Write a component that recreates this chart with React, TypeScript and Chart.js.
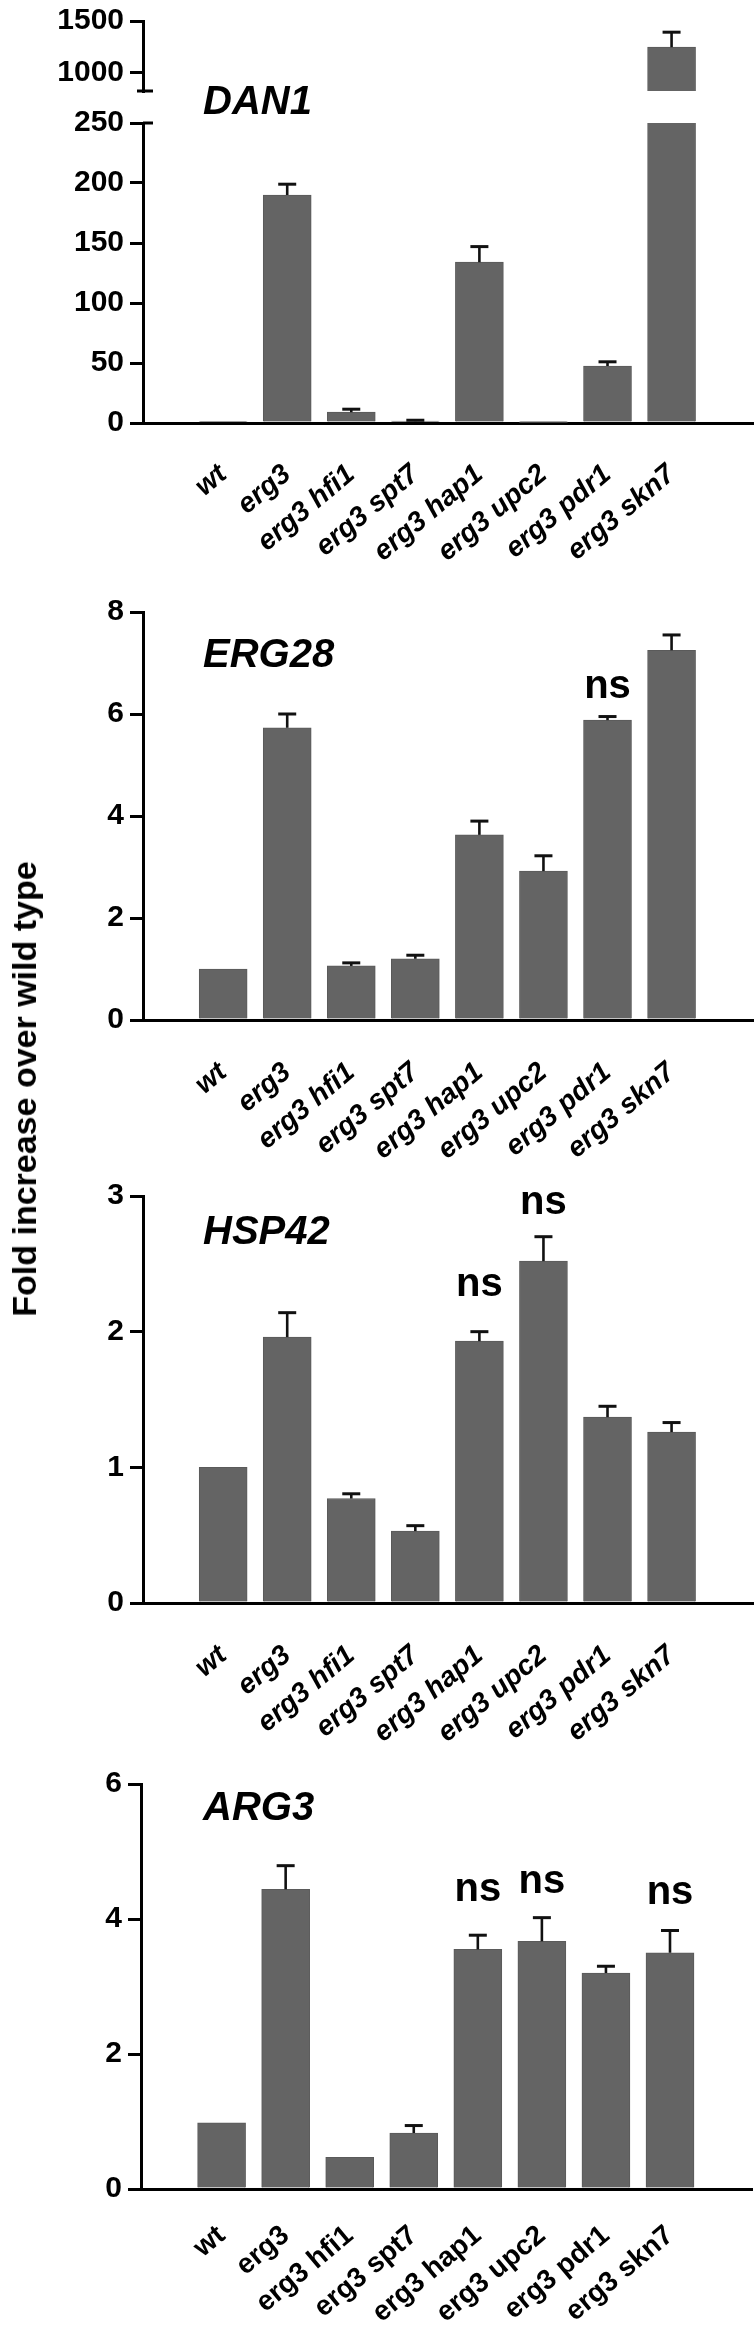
import React, { useEffect, useRef } from 'react';
import { Chart, registerables } from 'chart.js';

Chart.register(...registerables);

// ---------------- data ----------------
const categories = ['wt', 'erg3', 'erg3 hfi1', 'erg3 spt7', 'erg3 hap1', 'erg3 upc2', 'erg3 pdr1', 'erg3 skn7'];

const dan1Values = [1, 190, 9, 1.5, 134, 0.5, 47.5, 1245];
const dan1Errors = [0, 9, 2.5, 0.8, 13, 0, 3.5, 146];
const dan1LowerTicks = [0, 50, 100, 150, 200, 250];
const dan1UpperTicks = [1000, 1500];

const erg28Values = [1.0, 5.73, 1.06, 1.2, 3.63, 2.92, 5.88, 7.25];
const erg28Errors = [0, 0.27, 0.06, 0.07, 0.27, 0.3, 0.07, 0.3];
const erg28Ticks = [0, 2, 4, 6, 8];

const hsp42Values = [1.0, 1.96, 0.77, 0.53, 1.93, 2.52, 1.37, 1.26];
const hsp42Errors = [0, 0.18, 0.035, 0.04, 0.07, 0.18, 0.08, 0.07];
const hsp42Ticks = [0, 1, 2, 3];

const arg3Values = [0.98, 4.44, 0.47, 0.83, 3.55, 3.67, 3.2, 3.5];
const arg3Errors = [0, 0.35, 0, 0.11, 0.21, 0.35, 0.1, 0.33];
const arg3Ticks = [0, 2, 4, 6];

const yAxisTitle = 'Fold increase over wild type';
const nsText = 'ns';

// ---------------- layout / style ----------------
const FONT = "'Liberation Sans', Arial, Helvetica, sans-serif";
const W = 756;
const RIGHT = 753;
const BAR_COLOR = '#646464';

type NsMark = { i: number; dy: number };
type Panel = {
  key: string;
  top: number;
  height: number;
  chartTop: number;
  chartBottom: number;
  left: number;
  right: number;
  xMin: number;
  xMax: number;
  yMin: number;
  yMax: number;
  yTicks: number[];
  values: number[];
  errors: number[];
  ns: NsMark[];
  italic: boolean;
  showX: boolean;
  labelPad: number;
  brk: 'upper' | 'lower' | null;
};

const panels: Panel[] = [
  {
    key: 'dan1u', top: 0, height: 115, chartTop: 16, chartBottom: 91, left: 143, right: RIGHT,
    xMin: -0.656, xMax: 7.676, yMin: 818, yMax: 1500, yTicks: dan1UpperTicks,
    values: dan1Values, errors: dan1Errors, ns: [], italic: true, showX: false, labelPad: 0, brk: 'upper',
  },
  {
    key: 'dan1l', top: 95, height: 495, chartTop: 123, chartBottom: 423, left: 143, right: RIGHT,
    xMin: -0.656, xMax: 7.676, yMin: 0, yMax: 250, yTicks: dan1LowerTicks,
    values: dan1Values, errors: dan1Errors, ns: [], italic: true, showX: true, labelPad: 36, brk: 'lower',
  },
  {
    key: 'erg28', top: 590, height: 580, chartTop: 612, chartBottom: 1020, left: 143, right: RIGHT,
    xMin: -0.656, xMax: 7.676, yMin: 0, yMax: 8, yTicks: erg28Ticks,
    values: erg28Values, errors: erg28Errors, ns: [{ i: 6, dy: 30 }], italic: true, showX: true, labelPad: 37, brk: null,
  },
  {
    key: 'hsp42', top: 1170, height: 580, chartTop: 1196, chartBottom: 1603, left: 143, right: RIGHT,
    xMin: -0.656, xMax: 7.676, yMin: 0, yMax: 3, yTicks: hsp42Ticks,
    values: hsp42Values, errors: hsp42Errors, ns: [{ i: 4, dy: 47 }, { i: 5, dy: 34 }], italic: true, showX: true, labelPad: 37, brk: null,
  },
  {
    key: 'arg3', top: 1750, height: 579, chartTop: 1784, chartBottom: 2189, left: 141, right: 752,
    xMin: -0.662, xMax: 7.684, yMin: 0, yMax: 6, yTicks: arg3Ticks,
    values: arg3Values, errors: arg3Errors, ns: [{ i: 4, dy: 45 }, { i: 5, dy: 36 }, { i: 7, dy: 38 }], italic: false, showX: true, labelPad: 31, brk: null,
  },
];

const titles = [
  { text: 'DAN1', y: 100 },
  { text: 'ERG28', y: 653 },
  { text: 'HSP42', y: 1230 },
  { text: 'ARG3', y: 1806 },
];

// ---------------- plugins ----------------
function errorPlugin(p: Panel) {
  return {
    id: 'errbars_' + p.key,
    afterDatasetsDraw(chart: any) {
      const { ctx, chartArea } = chart;
      const xs = chart.scales.x;
      const ys = chart.scales.y;
      ctx.save();
      ctx.beginPath();
      ctx.rect(chartArea.left, chartArea.top - 2, chartArea.right - chartArea.left, chartArea.bottom - chartArea.top + 2);
      ctx.clip();
      ctx.strokeStyle = '#111';
      ctx.lineCap = 'butt';
      p.values.forEach((v, i) => {
        const e = p.errors[i];
        if (!e) return;
        const x = xs.getPixelForValue(i);
        const y0 = ys.getPixelForValue(v);
        const y1 = ys.getPixelForValue(v + e);
        ctx.lineWidth = 2.6;
        ctx.beginPath();
        ctx.moveTo(x, y0);
        ctx.lineTo(x, y1);
        ctx.stroke();
        ctx.lineWidth = 3;
        ctx.beginPath();
        ctx.moveTo(x - 9, y1);
        ctx.lineTo(x + 9, y1);
        ctx.stroke();
      });
      ctx.restore();

      // ns labels
      ctx.save();
      ctx.fillStyle = '#000';
      ctx.font = `bold 40px ${FONT}`;
      ctx.textAlign = 'center';
      ctx.textBaseline = 'middle';
      p.ns.forEach((m) => {
        const x = xs.getPixelForValue(m.i);
        const yTop = ys.getPixelForValue(p.values[m.i] + p.errors[m.i]);
        ctx.fillText(nsText, x, yTop - m.dy);
      });
      ctx.restore();
    },
  };
}

function breakPlugin(p: Panel) {
  return {
    id: 'brk_' + p.key,
    afterDraw(chart: any) {
      if (!p.brk) return;
      const { ctx, chartArea } = chart;
      ctx.save();
      ctx.strokeStyle = '#000';
      ctx.lineWidth = 3;
      ctx.beginPath();
      if (p.brk === 'upper') {
        ctx.moveTo(chartArea.left - 6, chartArea.bottom);
        ctx.lineTo(chartArea.left + 10, chartArea.bottom);
      } else {
        ctx.moveTo(chartArea.left, chartArea.top);
        ctx.lineTo(chartArea.left + 10, chartArea.top);
      }
      ctx.stroke();
      ctx.restore();
    },
  };
}

function buildChart(canvas: HTMLCanvasElement, p: Panel) {
  const data = p.values.map((v, i) => ({ x: i, y: v }));
  const xAxisHeight = p.top + p.height - p.chartBottom;
  return new Chart(canvas, {
    type: 'bar',
    data: {
      datasets: [
        {
          data,
          backgroundColor: BAR_COLOR,
          borderColor: '#5a5a5a',
          borderWidth: 1,
          barThickness: 48,
        } as any,
      ],
    },
    options: {
      animation: false,
      responsive: false,
      maintainAspectRatio: false,
      devicePixelRatio: 1,
      events: [],
      layout: {
        padding: {
          left: 0,
          right: W - p.right,
          top: p.chartTop - p.top,
          bottom: p.showX ? 0 : xAxisHeight,
        },
      },
      plugins: {
        legend: { display: false },
        tooltip: { enabled: false },
        title: { display: false },
      },
      scales: {
        x: {
          type: 'linear',
          min: p.xMin,
          max: p.xMax,
          display: p.showX,
          afterBuildTicks: (s: any) => {
            s.ticks = categories.map((_, i) => ({ value: i }));
          },
          afterFit: (s: any) => {
            if (p.showX) s.height = xAxisHeight;
          },
          grid: { display: false, drawTicks: false },
          border: { display: true, color: '#000', width: 3 },
          ticks: {
            autoSkip: false,
            minRotation: 40,
            maxRotation: 40,
            padding: p.labelPad,
            color: '#000',
            font: { family: FONT, size: 28, weight: 'bold', style: p.italic ? 'italic' : 'normal', lineHeight: 1.1 },
            callback: (v: any) => categories[v] ?? '',
          },
        },
        y: {
          type: 'linear',
          min: p.yMin,
          max: p.yMax,
          afterBuildTicks: (s: any) => {
            s.ticks = p.yTicks.map((v) => ({ value: v }));
          },
          afterFit: (s: any) => {
            s.width = p.left;
          },
          grid: { drawOnChartArea: false, drawTicks: true, tickLength: 13, lineWidth: 3, color: '#000' },
          border: { display: true, color: '#000', width: 3 },
          ticks: {
            padding: 6,
            color: '#000',
            font: { family: FONT, size: 30, weight: 'bold', lineHeight: 1 },
            callback: (v: any) => String(v),
          },
        },
      },
    } as any,
    plugins: [errorPlugin(p), breakPlugin(p)],
  });
}

function PanelCanvas({ p }: { p: Panel }) {
  const ref = useRef<HTMLCanvasElement | null>(null);
  useEffect(() => {
    if (!ref.current) return;
    const chart = buildChart(ref.current, p);
    return () => chart.destroy();
  }, [p]);
  return (
    <canvas
      ref={ref}
      width={W}
      height={p.height}
      style={{ position: 'absolute', left: 0, top: p.top, width: W, height: p.height, display: 'block' }}
    />
  );
}

export default function App() {
  return (
    <div
      style={{
        position: 'absolute',
        left: 0,
        top: 0,
        width: W,
        height: 2329,
        overflow: 'hidden',
        background: '#fff',
        fontFamily: FONT,
      }}
    >
      {panels.map((p) => (
        <PanelCanvas key={p.key} p={p} />
      ))}
      {titles.map((t) => (
        <div
          key={t.text}
          style={{
            position: 'absolute',
            left: 203,
            top: t.y - 20,
            fontSize: 40,
            lineHeight: '40px',
            fontWeight: 'bold',
            fontStyle: 'italic',
            color: '#000',
            whiteSpace: 'nowrap',
            zIndex: 2,
          }}
        >
          {t.text}
        </div>
      ))}
      <div
        style={{
          position: 'absolute',
          left: 24,
          top: 1089,
          transform: 'translate(-50%, -50%) rotate(-90deg)',
          fontSize: 34,
          lineHeight: '34px',
          fontWeight: 'bold',
          color: '#000',
          whiteSpace: 'nowrap',
          zIndex: 2,
        }}
      >
        {yAxisTitle}
      </div>
    </div>
  );
}
